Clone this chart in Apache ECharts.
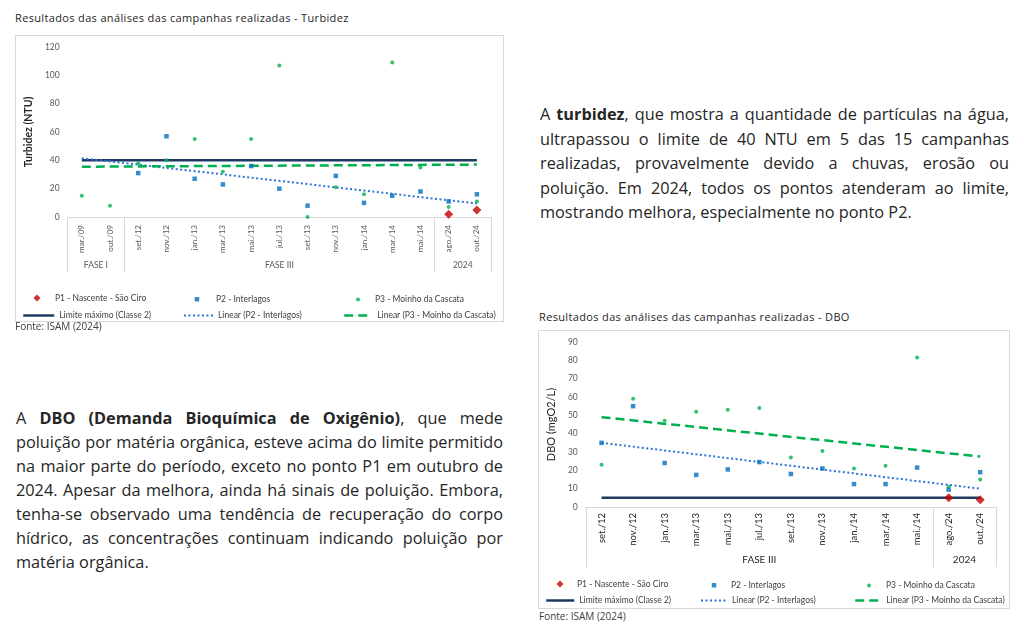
<!DOCTYPE html>
<html>
<head>
<meta charset="utf-8">
<script src="https://cdn.jsdelivr.net/npm/echarts@6/dist/echarts.min.js"></script>
<style>
  html, body { margin:0; padding:0; background:#fff; }
  body { width:1024px; height:624px; position:relative; overflow:hidden; }
  .abs { position:absolute; }
  .ctitle { font-family:"Open Sans"; font-size:11px; letter-spacing:0.35px; color:#262626; white-space:nowrap; line-height:14px; }
  .fonte { font-family:"Open Sans"; font-size:10px; color:#404040; white-space:nowrap; line-height:13px; }
  .box { border:1px solid #d9d9d9; box-sizing:border-box; }
  .para { font-family:"Open Sans"; font-size:16.3px; color:#262626; }
  .para span { display:block; text-align:justify; text-align-last:justify; white-space:nowrap; }
  .para span.last { text-align-last:left; }
</style>
</head>
<body>
<div class="abs ctitle" style="left:15px;top:11px;">Resultados das análises das campanhas realizadas - Turbidez</div>
<div class="abs box" style="left:15px;top:35px;width:489px;height:287px;"></div>
<div id="c1" class="abs" style="left:15px;top:35px;width:489px;height:287px;"></div>
<div class="abs fonte" style="left:15px;top:320px;">Fonte: ISAM (2024)</div>

<div class="abs para" style="left:540px;top:102px;width:469px;line-height:24.6px;">
  <span>A <b>turbidez</b>, que mostra a quantidade de partículas na água,</span>
  <span>ultrapassou o limite de 40 NTU em 5 das 15 campanhas</span>
  <span>realizadas, provavelmente devido a chuvas, erosão ou</span>
  <span>poluição. Em 2024, todos os pontos atenderam ao limite,</span>
  <span class="last">mostrando melhora, especialmente no ponto P2.</span>
</div>

<div class="abs para" style="left:16px;top:406px;width:487px;line-height:24px;">
  <span>A <b>DBO (Demanda Bioquímica de Oxigênio)</b>, que mede</span>
  <span>poluição por matéria orgânica, esteve acima do limite permitido</span>
  <span>na maior parte do período, exceto no ponto P1 em outubro de</span>
  <span>2024. Apesar da melhora, ainda há sinais de poluição. Embora,</span>
  <span>tenha-se observado uma tendência de recuperação do corpo</span>
  <span>hídrico, as concentrações continuam indicando poluição por</span>
  <span class="last">matéria orgânica.</span>
</div>

<div class="abs ctitle" style="left:539px;top:310px;">Resultados das análises das campanhas realizadas - DBO</div>
<div class="abs box" style="left:538px;top:330px;width:472px;height:279px;"></div>
<div id="c2" class="abs" style="left:538px;top:330px;width:472px;height:279px;"></div>
<div class="abs fonte" style="left:539px;top:610px;">Fonte: ISAM (2024)</div>

<script>
// ---------------- DATA: Turbidez ----------------
const turbCategories = ['mar./09','out./09','set./12','nov./12','jan./13','mar./13','mai./13','jul./13','set./13','nov./13','jan./14','mar./14','mai./14','ago./24','out./24'];
const turbGroupNames = ['FASE I','FASE III','2024'];
const turbGroupSizes = [2, 11, 2];
const turbP1 = [null,null,null,null,null,null,null,null,null,null,null,null,null,2,5];
const turbP2 = [null,null,31,57,27,23,36,20,8,29,10,15,18,11,16];
const turbP3 = [15,8,38,40,55,32,55,107,0,21,16,109,35,7,11];
const turbLimit = [40,40,40,40,40,40,40,40,40,40,40,40,40,40,40];
const turbTrendP2 = [41.5,null,null,null,null,null,null,null,null,null,null,null,null,null,9.5];
const turbTrendP3 = [35.5,null,null,null,null,null,null,null,null,null,null,null,null,null,37];
const turbYTicks = [0,20,40,60,80,100,120];

// ---------------- DATA: DBO ----------------
const dboCategories = ['set./12','nov./12','jan./13','mar./13','mai./13','jul./13','set./13','nov./13','jan./14','mar./14','mai./14','ago./24','out./24'];
const dboGroupNames = ['FASE III','2024'];
const dboGroupSizes = [11, 2];
const dboP1 = [null,null,null,null,null,null,null,null,null,null,null,5,4];
const dboP2 = [35,55,24,17.5,20.5,24.5,18,21,12.5,12.5,21.5,9.5,19];
const dboP3 = [23,59,47,52,53,54,27,30.5,21,22.5,81.5,11,15];
const dboLimit = [5,5,5,5,5,5,5,5,5,5,5,5,5];
const dboTrendP2 = [35,null,null,null,null,null,null,null,null,null,null,null,10];
const dboTrendP3 = [49,null,null,null,null,null,null,null,null,null,null,null,27.5];
const dboYTicks = [0,10,20,30,40,50,60,70,80,90];

const seriesNames = ['P1 - Nascente - São Ciro','P2 - Interlagos','P3 - Moinho da Cascata','Limite máximo (Classe 2)','Linear (P2 - Interlagos)','Linear (P3 - Moinho da Cascata)'];

// ---------------- STYLE ----------------
const FONT = 'Lato';
const C_RED = '#c00000', C_BLUE = '#0070c0', C_GREEN = '#00b050', C_NAVY = '#1f3864', C_DOT = '#2e75d6';

function buildOption(d, L) {
  const n = d.categories.length;
  const bounds = [0], centers = [];
  let acc = 0;
  d.groupSizes.forEach(s => { centers.push(acc + s / 2); acc += s; bounds.push(acc); });
  const ticks = d.yTicks;
  // legend layout entries: [iconLeft, iconWidth, iconHeight, textLeft, centerY, isLine, lineWidth]
  const legends = L.legend.map((e, i) => {
    const [left, w, h, textLeft, cy, isLine, lw] = e;
    const pad = Math.max(0, textLeft - (left + w + 5));
    const o = {
      data: [seriesNames[i]],
      left: left, top: cy - h / 2,
      itemWidth: w, itemHeight: h,
      itemGap: 0, padding: 0, selectedMode: false,
      textStyle: { fontFamily: FONT, fontSize: 8.5, color: '#404040', padding: [0, 0, 0, pad] }
    };
    if (isLine) {
      o.lineStyle = { width: lw };
      o.itemStyle = { opacity: 0 };
    }
    return o;
  });
  return {
    animation: false,
    grid: { left: L.grid[0], right: L.grid[1], top: L.grid[2], bottom: L.grid[3] },
    legend: legends,
    xAxis: [
      {
        type: 'category', data: d.categories, boundaryGap: true,
        axisLine: { lineStyle: { color: '#d9d9d9', width: 1 } },
        axisTick: { show: false },
        axisLabel: { rotate: 90, interval: 0, margin: L.labelMargin, fontFamily: FONT, fontSize: L.catFont, color: L.catColor }
      },
      {
        type: 'value', min: 0, max: n, position: 'bottom',
        axisLine: { show: false }, splitLine: { show: false },
        axisTick: { show: true, customValues: bounds, length: L.sepLen, lineStyle: { color: '#d9d9d9', width: 1 } },
        axisLabel: {
          customValues: centers, margin: L.groupMargin, fontFamily: FONT, fontSize: L.groupFont, color: L.catColor,
          formatter: v => { const i = centers.findIndex(c => Math.abs(c - v) < 1e-6); return i >= 0 ? d.groupNames[i] : ''; }
        }
      }
    ],
    yAxis: {
      type: 'value', min: ticks[0], max: ticks[ticks.length - 1], interval: ticks[1] - ticks[0],
      axisLine: { show: false }, axisTick: { show: false }, splitLine: { show: false },
      axisLabel: { margin: 8, fontFamily: FONT, fontSize: 8.5, color: '#595959' },
      name: d.yName, nameLocation: 'middle', nameRotate: 90, nameGap: L.nameGap,
      nameTextStyle: { fontFamily: FONT, fontSize: L.nameFont, fontWeight: L.nameWeight, color: '#262626' }
    },
    series: [
      { name: seriesNames[0], type: 'scatter', data: d.p1, symbol: 'diamond', symbolSize: 9, itemStyle: { color: C_RED }, z: 10 },
      { name: seriesNames[1], type: 'scatter', data: d.p2, symbol: 'rect', symbolSize: 4.5, itemStyle: { color: C_BLUE }, z: 9 },
      { name: seriesNames[2], type: 'scatter', data: d.p3, symbol: 'circle', symbolSize: 4, itemStyle: { color: C_GREEN }, z: 9 },
      { name: seriesNames[3], type: 'line', data: d.limit, symbol: 'none', lineStyle: { color: C_NAVY, width: 2.5 }, itemStyle: { color: C_NAVY }, z: 3 },
      { name: seriesNames[4], type: 'line', data: d.trendP2, connectNulls: true, symbol: 'none', lineStyle: { color: C_DOT, width: 2, type: [2, 2.5] }, itemStyle: { color: C_DOT }, z: 4 },
      { name: seriesNames[5], type: 'line', data: d.trendP3, connectNulls: true, symbol: 'none', lineStyle: { color: C_GREEN, width: 2.5, type: [9, 5] }, itemStyle: { color: C_GREEN }, z: 4 }
    ]
  };
}

const chart1 = echarts.init(document.getElementById('c1'), null, { renderer: 'canvas' });
chart1.setOption(buildOption(
  { categories: turbCategories, groupNames: turbGroupNames, groupSizes: turbGroupSizes, p1: turbP1, p2: turbP2, p3: turbP3,
    limit: turbLimit, trendP2: turbTrendP2, trendP3: turbTrendP3, yTicks: turbYTicks, yName: 'Turbidez (NTU)' },
  { grid: [46, 13, 12, 105], labelMargin: 8, catFont: 8, groupFont: 8.5, catColor: '#595959', sepLen: 55, groupMargin: 44,
    nameGap: 24, nameFont: 10.5, nameWeight: 'bold',
    legend: [
      [18.5, 7, 7, 40, 262, false],
      [179.75, 4.5, 4.5, 201, 262, false],
      [341, 4, 4, 360, 262, false],
      [7, 31, 8, 43, 280, true, 2.5],
      [168, 29, 8, 202, 280, true, 2],
      [328, 23, 8, 361, 280, true, 2.5]
    ] }
));

const chart2 = echarts.init(document.getElementById('c2'), null, { renderer: 'canvas' });
chart2.setOption(buildOption(
  { categories: dboCategories, groupNames: dboGroupNames, groupSizes: dboGroupSizes, p1: dboP1, p2: dboP2, p3: dboP3,
    limit: dboLimit, trendP2: dboTrendP2, trendP3: dboTrendP3, yTicks: dboYTicks, yName: 'DBO (mgO2/L)' },
  { grid: [45, 14, 12, 102], labelMargin: 6, catFont: 9.5, groupFont: 10, catColor: '#262626', sepLen: 60, groupMargin: 48,
    nameGap: 22, nameFont: 11, nameWeight: 'normal',
    legend: [
      [18.5, 7, 7, 39, 253, false],
      [173.75, 4.5, 4.5, 193, 253, false],
      [329, 4, 4, 348, 253, false],
      [7, 28, 8, 40, 270, true, 2.5],
      [162, 26, 8, 193, 270, true, 2],
      [316, 23, 8, 347, 270, true, 2.5]
    ] }
));
</script>
</body>
</html>
